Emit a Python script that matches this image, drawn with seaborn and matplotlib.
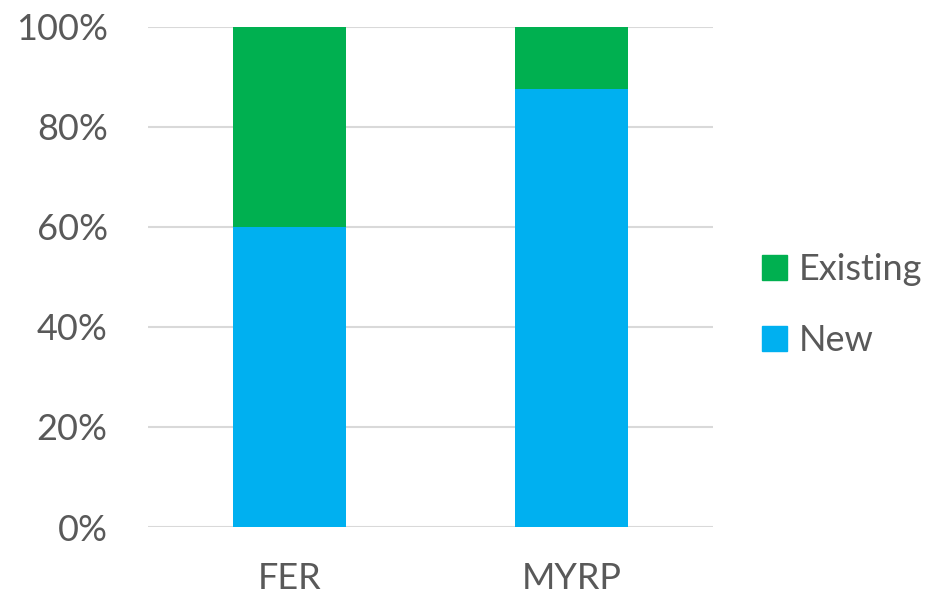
import pandas as pd
import matplotlib.pyplot as plt
import seaborn as sns
from matplotlib.patches import Patch

# Share of participants, in percent
programs = ['FER', 'MYRP']
new_pct = [60, 87.5]
existing_pct = [40, 12.5]

df = pd.DataFrame({'Program': programs, 'New': new_pct, 'Existing': existing_pct})
df['Total'] = df['New'] + df['Existing']

sns.set_style('white')
plt.rcParams['font.family'] = ['Lato', 'DejaVu Sans']

green = '#00B050'
blue = '#00B0F0'
text_col = '#595959'

fig = plt.figure(figsize=(9.32, 5.99), dpi=100)
ax = fig.add_axes([0.1588, 0.1202, 0.6062, 0.8348])

# Stacked: draw totals (Existing on top) then New over it
sns.barplot(x='Program', y='Total', data=df, color=green, width=0.4, ax=ax,
            saturation=1, linewidth=0)
sns.barplot(x='Program', y='New', data=df, color=blue, width=0.4, ax=ax,
            saturation=1, linewidth=0)

ax.set_ylim(0, 100)
ax.set_xlim(-0.5, 1.5)
ax.set_yticks(range(0, 101, 20))
ax.set_yticklabels([f'{v}%' for v in range(0, 101, 20)])
ax.yaxis.grid(True, color='#D9D9D9', linewidth=1.5)
ax.set_axisbelow(True)
for s in ax.spines.values():
    s.set_visible(False)
ax.set_xlabel('')
ax.set_ylabel('')
ax.tick_params(axis='y', length=0, pad=29, labelsize=26, labelcolor=text_col)
ax.tick_params(axis='x', length=0, pad=25, labelsize=26, labelcolor=text_col)

handles = [Patch(color=green, label='Existing'), Patch(color=blue, label='New')]
fig.legend(handles=handles, loc='center left', bbox_to_anchor=(0.8176, 0.491),
           frameon=False, fontsize=26, labelcolor=text_col, borderpad=0,
           borderaxespad=0, handlelength=0.68, handleheight=0.68,
           handletextpad=0.35, labelspacing=1.05)

plt.savefig('out.png', dpi=100)
